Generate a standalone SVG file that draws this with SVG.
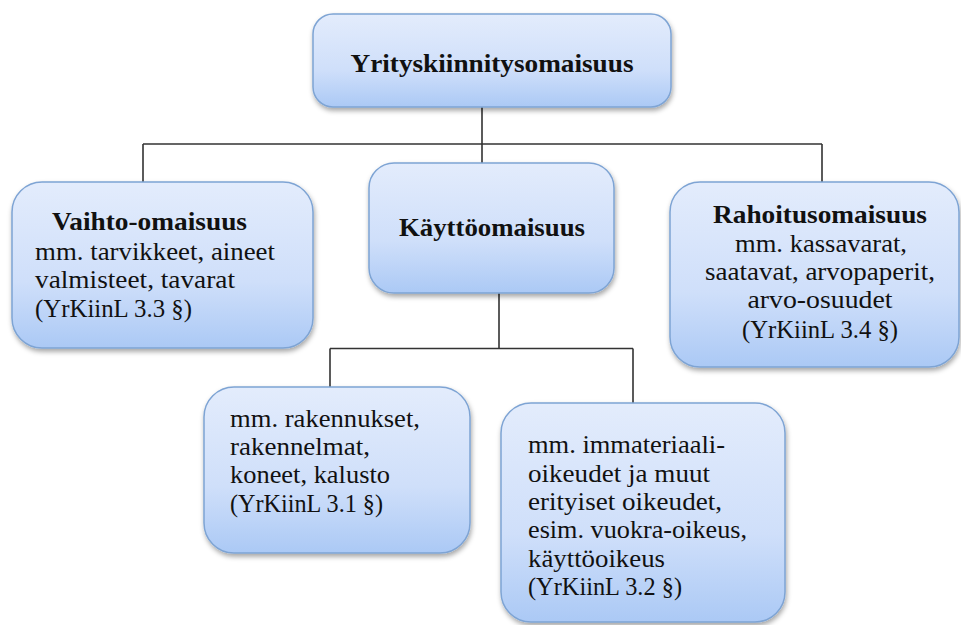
<svg xmlns="http://www.w3.org/2000/svg" width="961" height="625" viewBox="0 0 961 625">
<defs>
<linearGradient id="g" x1="0" y1="0" x2="0" y2="1">
<stop offset="0" stop-color="#e3ecfc"/>
<stop offset="0.6" stop-color="#cfdffa"/>
<stop offset="1" stop-color="#abc9f5"/>
</linearGradient>
<filter id="sh" x="-10%" y="-10%" width="125%" height="130%">
<feDropShadow dx="1" dy="3" stdDeviation="2.5" flood-color="#000" flood-opacity="0.35"/>
</filter>
<style>
.box{fill:url(#g);stroke:#7ea4d4;stroke-width:1.5;filter:url(#sh)}
.t{font-family:"Liberation Serif","DejaVu Serif",serif;font-size:26px;fill:#111}
.b{font-weight:bold}
.c{text-anchor:middle}
.ln{fill:none;stroke:#333;stroke-width:1.6}
</style>
</defs>
<g id="connectors">
<path class="ln" d="M482 107 V144 M143 144 H822 M143 144 V182 M482 144 V163 M822 144 V182"/>
<path class="ln" d="M499 293 V348.5 M330 348.5 H633 M330 348.5 V387 M633 348.5 V403"/>
</g>
<g id="root">
<rect class="box" x="313" y="14" width="358" height="93" rx="20"/>
<text class="t b c" x="492" y="72" textLength="283" lengthAdjust="spacingAndGlyphs">Yrityskiinnitysomaisuus</text>
</g>
<g id="vaihto">
<rect class="box" x="12" y="182" width="301" height="166" rx="30"/>
<text class="t b" x="52" y="230" textLength="195" lengthAdjust="spacingAndGlyphs">Vaihto-omaisuus</text>
<text class="t" x="35" y="260" textLength="240" lengthAdjust="spacingAndGlyphs">mm. tarvikkeet, aineet</text>
<text class="t" x="35" y="288" textLength="200" lengthAdjust="spacingAndGlyphs">valmisteet, tavarat</text>
<text class="t" x="35" y="317" textLength="157" lengthAdjust="spacingAndGlyphs">(YrKiinL 3.3 §)</text>
</g>
<g id="kaytto">
<rect class="box" x="369" y="163" width="245" height="130" rx="25"/>
<text class="t b c" x="492" y="236" textLength="186" lengthAdjust="spacingAndGlyphs">Käyttöomaisuus</text>
</g>
<g id="rahoitus">
<rect class="box" x="670" y="182" width="289" height="185" rx="30"/>
<text class="t b c" x="820" y="223" textLength="214" lengthAdjust="spacingAndGlyphs">Rahoitusomaisuus</text>
<text class="t c" x="821" y="252" textLength="172" lengthAdjust="spacingAndGlyphs">mm. kassavarat,</text>
<text class="t c" x="820" y="280" textLength="230" lengthAdjust="spacingAndGlyphs">saatavat, arvopaperit,</text>
<text class="t c" x="820" y="308" textLength="145" lengthAdjust="spacingAndGlyphs">arvo-osuudet</text>
<text class="t c" x="820" y="338" textLength="156" lengthAdjust="spacingAndGlyphs">(YrKiinL 3.4 §)</text>
</g>
<g id="rakennukset">
<rect class="box" x="204" y="387" width="266" height="166" rx="30"/>
<text class="t" x="230" y="427" textLength="190" lengthAdjust="spacingAndGlyphs">mm. rakennukset,</text>
<text class="t" x="230" y="455" textLength="140" lengthAdjust="spacingAndGlyphs">rakennelmat,</text>
<text class="t" x="230" y="483" textLength="160" lengthAdjust="spacingAndGlyphs">koneet, kalusto</text>
<text class="t" x="230" y="512" textLength="153" lengthAdjust="spacingAndGlyphs">(YrKiinL 3.1 §)</text>
</g>
<g id="oikeudet">
<rect class="box" x="501" y="403" width="284" height="219" rx="30"/>
<text class="t" x="528" y="453" textLength="197" lengthAdjust="spacingAndGlyphs">mm. immateriaali-</text>
<text class="t" x="528" y="482" textLength="182" lengthAdjust="spacingAndGlyphs">oikeudet ja muut</text>
<text class="t" x="528" y="510" textLength="194" lengthAdjust="spacingAndGlyphs">erityiset oikeudet,</text>
<text class="t" x="528" y="538" textLength="219" lengthAdjust="spacingAndGlyphs">esim. vuokra-oikeus,</text>
<text class="t" x="528" y="567" textLength="137" lengthAdjust="spacingAndGlyphs">käyttöoikeus</text>
<text class="t" x="528" y="595" textLength="154" lengthAdjust="spacingAndGlyphs">(YrKiinL 3.2 §)</text>
</g>
</svg>
